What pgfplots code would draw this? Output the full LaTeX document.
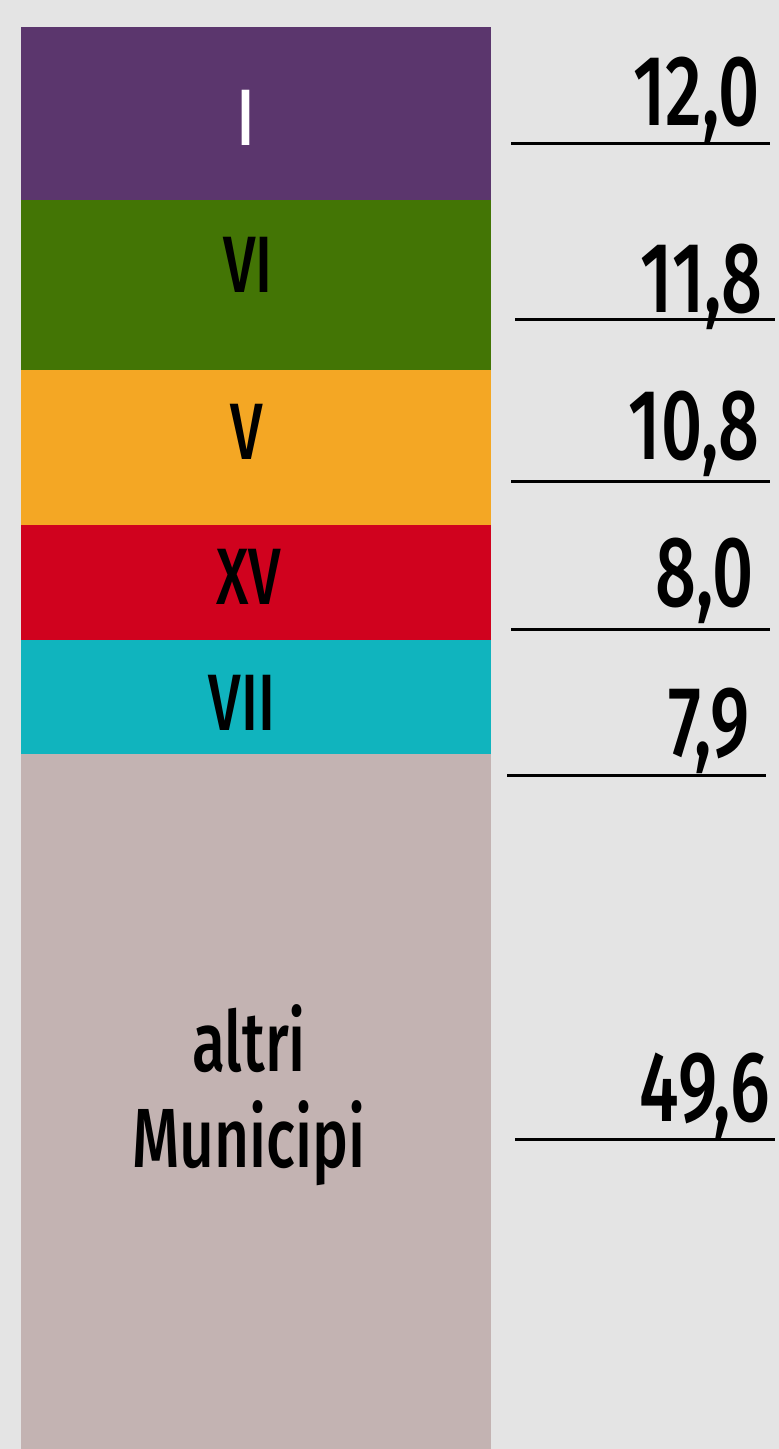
\documentclass[border=0pt]{standalone}
\usepackage{pgfplots}
\pgfplotsset{compat=1.18}
\usepackage{fontspec}
\setmainfont{Fira Sans}[FakeStretch=0.72, BoldFont={* Medium}]
\definecolor{bgc}{HTML}{E4E4E4}
\definecolor{cI}{HTML}{5B366D}
\definecolor{cVI}{HTML}{437505}
\definecolor{cV}{HTML}{F4A724}
\definecolor{cXV}{HTML}{D0021E}
\definecolor{cVII}{HTML}{10B4BE}
\definecolor{cAl}{HTML}{C3B3B2}
\tikzset{seg/.style={font=\bfseries\fontsize{40}{44}\selectfont, anchor=center},
  val/.style={font=\bfseries\fontsize{50}{55}\selectfont, anchor=base east, inner sep=0pt}}
\begin{document}
\begin{tikzpicture}
\fill[bgc] (0,0) rectangle (389.5pt,724.5pt);
\useasboundingbox (0,0) rectangle (389.5pt,724.5pt);
\begin{axis}[
  at={(0,0)}, anchor=south west,
  scale only axis, width=389.5pt, height=724.5pt,
  xmin=0, xmax=779, ymin=-1.875, ymax=98.75,
  y dir=reverse,
  ybar stacked, bar width=470,
  axis lines=none, ticks=none, clip=true,
]
\addplot[fill=cI, draw=none] coordinates {(256,12.0)};
\addplot[fill=cVI, draw=none] coordinates {(256,11.8)};
\addplot[fill=cV, draw=none] coordinates {(256,10.8)};
\addplot[fill=cXV, draw=none] coordinates {(256,8.0)};
\addplot[fill=cVII, draw=none] coordinates {(256,7.9)};
\addplot[fill=cAl, draw=none] coordinates {(256,49.6)};
\coordinate (sI) at (axis cs:246,6.32);
\coordinate (sVI) at (axis cs:248,16.53);
\coordinate (sV) at (axis cs:247,28.13);
\coordinate (sXV) at (axis cs:249,38.19);
\coordinate (sVII) at (axis cs:242,46.94);
\coordinate (sAl) at (axis cs:249,74.17);
\coordinate (v1) at (axis cs:760,6.81);
\coordinate (v2) at (axis cs:763,19.86);
\coordinate (v3) at (axis cs:760,30.07);
\coordinate (v4) at (axis cs:754,40.21);
\coordinate (v5) at (axis cs:750,50.69);
\coordinate (v6) at (axis cs:770,76.04);
\coordinate (a1) at (axis cs:511,8.06);  \coordinate (b1) at (axis cs:770,8.06);
\coordinate (a2) at (axis cs:515,20.28); \coordinate (b2) at (axis cs:775,20.28);
\coordinate (a3) at (axis cs:511,31.53); \coordinate (b3) at (axis cs:770,31.53);
\coordinate (a4) at (axis cs:511,41.81); \coordinate (b4) at (axis cs:770,41.81);
\coordinate (a5) at (axis cs:507,52.01); \coordinate (b5) at (axis cs:766,52.01);
\coordinate (a6) at (axis cs:515,77.29); \coordinate (b6) at (axis cs:775,77.29);
\end{axis}
\node[seg, text=white] at (sI) {I};
\node[seg] at (sVI) {VI};
\node[seg] at (sV) {V};
\node[seg] at (sXV) {XV};
\node[seg] at (sVII) {VII};
\node[font=\bfseries\fontsize{42}{48}\selectfont, align=center, anchor=center] at (sAl) {altri\\Municipi};
\node[val] at (v1) {12,0};
\node[val] at (v2) {11,8};
\node[val] at (v3) {10,8};
\node[val] at (v4) {8,0};
\node[val] at (v5) {7,9};
\node[val] at (v6) {49,6};
\foreach \i in {1,...,6} {\draw[line width=1.5pt] (a\i) -- (b\i);}
\end{tikzpicture}
\end{document}
